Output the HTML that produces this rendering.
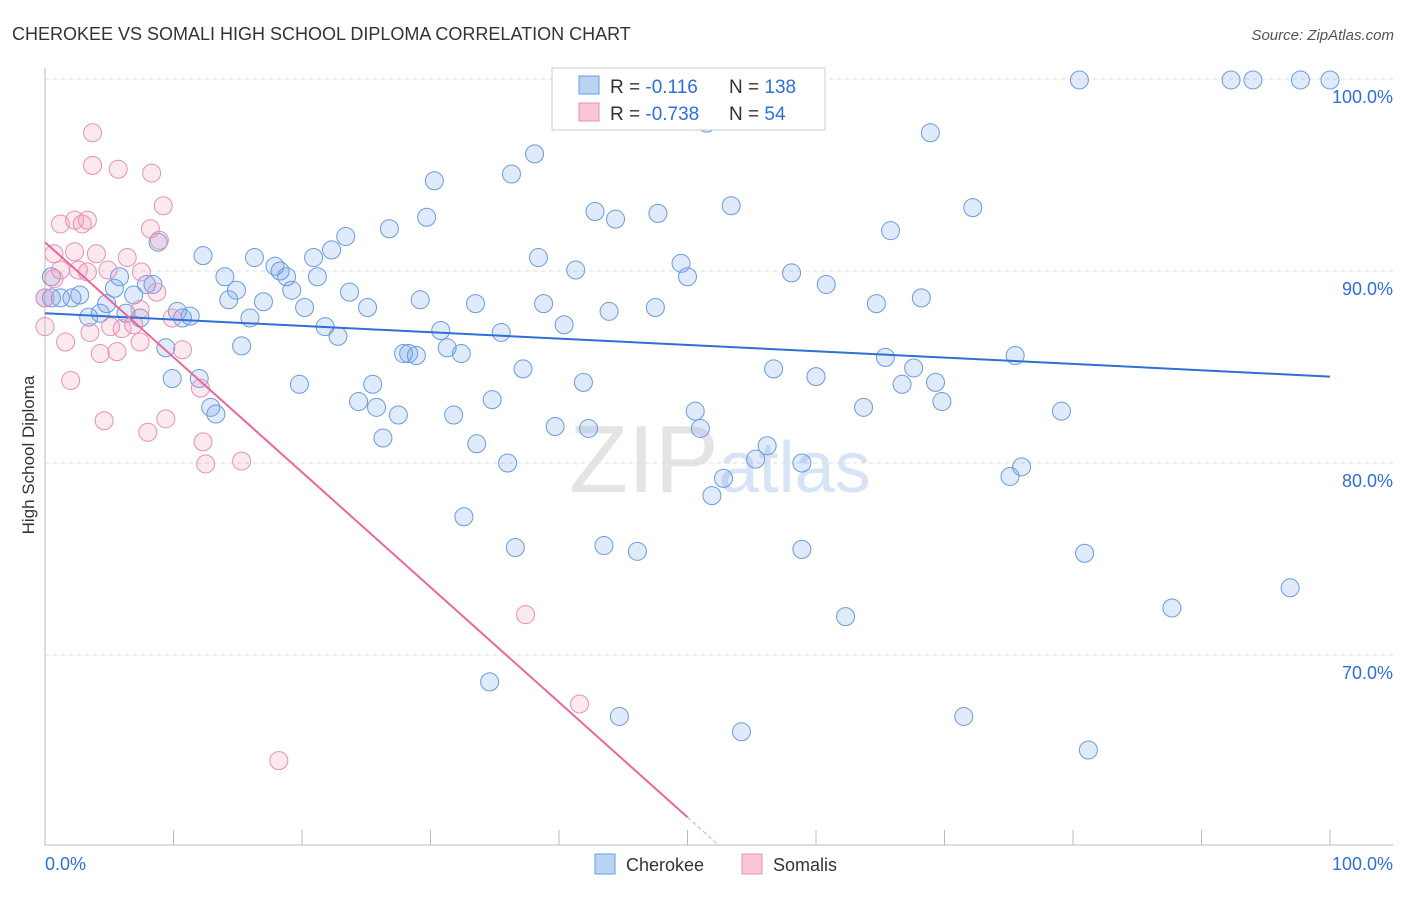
<!DOCTYPE html>
<html><head><meta charset="utf-8"><style>
body{margin:0;background:#fff;font-family:"Liberation Sans",sans-serif;}
svg text{font-family:"Liberation Sans",sans-serif;}
</style></head><body>
<svg id="c" width="1406" height="892">
<text x="12" y="40" font-size="18" fill="#333">CHEROKEE VS SOMALI HIGH SCHOOL DIPLOMA CORRELATION CHART</text>
<text x="1394" y="40" font-size="15" fill="#555" font-style="italic" text-anchor="end">Source: ZipAtlas.com</text>
<text x="34" y="455" font-size="17" fill="#333" text-anchor="middle" transform="rotate(-90 34 455)">High School Diploma</text>
<text x="720" y="492" font-size="96" fill="#e4e4e4" text-anchor="middle" font-family="Liberation Serif">ZIP<tspan fill="#d6e4f5" font-family="Liberation Sans" font-size="72">atlas</tspan></text>
<g id="grid"></g><g id="pts"></g><g id="lines"></g>
<rect x="552" y="68" width="273" height="62" fill="#fff" stroke="#ccc"/>
<rect x="579" y="76" width="20" height="18" fill="#b9d3f3" stroke="#6a9be0"/>
<rect x="579" y="103" width="20" height="18" fill="#f8c6d6" stroke="#e891b0"/>
<text x="610" y="93" font-size="19" fill="#333">R = <tspan fill="#2f6fd6">-0.116</tspan></text>
<text x="729" y="93" font-size="19" fill="#333">N = <tspan fill="#2f6fd6">138</tspan></text>
<text x="610" y="120" font-size="19" fill="#333">R = <tspan fill="#2f6fd6">-0.738</tspan></text>
<text x="729" y="120" font-size="19" fill="#333">N = <tspan fill="#2f6fd6"> 54</tspan></text>
<rect x="595" y="854" width="20" height="20" fill="#b9d3f3" stroke="#6a9be0"/>
<text x="626" y="871" font-size="18" fill="#333">Cherokee</text>
<rect x="742" y="854" width="20" height="20" fill="#f8c6d6" stroke="#e891b0"/>
<text x="773" y="871" font-size="18" fill="#333">Somalis</text>
<text x="45" y="870" font-size="18" fill="#2f6fd6">0.0%</text>
<text x="1393" y="870" font-size="18" fill="#2f6fd6" text-anchor="end">100.0%</text>
</svg>
<script>
const yTicks=[100,90,80,70];
const yTickLabels=["100.0%","90.0%","80.0%","70.0%"];
const blueX=[0.5,1.2,2.1,2.7,3.4,4.3,4.8,5.4,5.8,6.3,6.9,7.4,7.9,8.4,8.8,9.4,9.9,10.3,10.7,11.3,12.0,12.3,12.9,13.3,14.0,14.3,14.9,15.3,15.95,16.3,17.0,17.9,18.3,18.8,19.2,19.8,20.2,20.9,21.2,21.8,22.3,22.8,23.4,23.7,24.4,25.1,25.5,25.8,26.3,26.8,27.5,27.9,28.3,28.9,29.2,29.7,30.3,30.8,31.3,31.8,32.4,32.6,33.5,33.6,34.6,34.8,35.5,36.0,36.3,36.6,37.2,38.1,38.4,38.8,39.7,40.4,41.3,41.9,42.3,42.8,43.5,43.9,44.4,44.7,46.1,47.5,47.7,49.5,50.0,50.6,51.0,51.5,51.9,52.8,53.4,54.2,55.3,56.2,56.7,58.1,58.9,58.9,60.0,60.8,62.3,63.7,64.7,65.4,65.8,66.7,67.6,68.2,68.9,69.3,69.8,71.5,72.2,75.1,75.5,76.0,79.1,80.5,80.9,81.2,87.7,92.3,94.0,96.9,97.7,100,46.7,48.0,53.7,0,0.5];
const blueY=[88.6,88.6,88.6,88.75,87.6,87.8,88.3,89.1,89.7,87.8,88.75,87.55,89.3,89.3,91.5,86.0,84.4,87.9,87.55,87.65,84.4,90.8,82.9,82.55,89.7,88.5,89.0,86.1,87.55,90.7,88.4,90.25,90.0,89.7,89.0,84.1,88.1,90.7,89.7,87.1,91.1,86.6,91.8,88.9,83.2,88.1,84.1,82.9,81.3,92.2,82.5,85.7,85.7,85.6,88.5,92.8,94.7,86.9,86.0,82.5,85.7,77.2,88.3,81.0,68.6,83.3,86.8,80.0,95.05,75.6,84.9,96.1,90.7,88.3,81.9,87.2,90.05,84.2,81.8,93.1,75.7,87.9,92.7,66.8,75.4,88.1,93.0,90.4,89.7,82.7,81.8,97.7,78.3,79.2,93.4,66.0,80.2,80.9,84.9,89.9,80.0,75.5,84.5,89.3,72.0,82.9,88.3,85.5,92.1,84.1,84.95,88.6,97.2,84.2,83.2,66.8,93.3,79.3,85.6,79.8,82.7,99.95,75.3,65.05,72.45,99.95,99.95,73.5,99.95,99.95,99.95,99.95,99.95,88.6,89.7];
const pinkX=[0,0.7,0.7,1.2,1.2,1.6,2.0,2.3,2.3,2.6,2.9,3.3,3.3,3.7,3.7,3.5,4.0,4.3,4.6,4.9,5.1,5.6,5.7,6.0,6.4,6.9,7.4,7.4,7.5,8.0,8.2,8.3,8.7,8.9,9.2,9.4,9.9,10.7,12.1,12.3,12.5,15.3,18.2,37.4,41.6,0];
const pinkY=[87.1,90.9,89.6,90.05,92.45,86.3,84.3,91.0,92.65,90.05,92.45,92.65,89.95,97.2,95.5,86.8,90.9,85.7,82.2,90.05,87.1,85.8,95.3,87.0,90.7,87.2,86.3,88.0,89.95,81.6,92.2,95.1,88.9,91.6,93.4,82.3,87.55,85.9,83.9,81.1,79.95,80.1,64.5,72.1,67.45,88.6];
const blueTrend=[87.8,84.5];
const pinkTrend=[91.5,61.55];
const NS="http://www.w3.org/2000/svg";
const X0=45,X1=1330,Y100=79,YPX=19.2;
const sx=v=>X0+(X1-X0)*v/100;
const sy=v=>Y100+(100-v)*YPX;
function mk(tag,attrs,parent){const e=document.createElementNS(NS,tag);for(const k in attrs)e.setAttribute(k,attrs[k]);parent.appendChild(e);return e;}
const grid=document.getElementById('grid');
yTicks.forEach((t,i)=>{
  const l=mk('line',{x1:45,x2:1393,y1:sy(t),y2:sy(t),stroke:'#ddd','stroke-dasharray':'4 4'},grid);
  
  
  const tx=mk('text',{x:1393,y:sy(t)+24,'font-size':18,fill:'#2f6fd6','text-anchor':'end'},grid);
  tx.textContent=yTickLabels[i];
  
  
});
const ax=mk('line',{x1:45,x2:1393,y1:845,y2:845,stroke:'#bbb'},grid);


const ay=mk('line',{x1:45,x2:45,y1:68,y2:845,stroke:'#bbb'},grid);


for(let i=0;i<=10;i++){
  const t=mk('line',{x1:sx(i*10),x2:sx(i*10),y1:830,y2:845,stroke:'#bbb'},grid);
  
  
}
const pts=document.getElementById('pts');
blueX.forEach((x,i)=>{
  const c=mk('circle',{cx:sx(x),cy:sy(blueY[i]),r:9,fill:'rgba(110,160,230,0.22)',stroke:'#6a9be0','stroke-width':1},pts);
  
  
});
pinkX.forEach((x,i)=>{
  const c=mk('circle',{cx:sx(x),cy:sy(pinkY[i]),r:9,fill:'rgba(240,150,180,0.22)',stroke:'#e891b0','stroke-width':1},pts);
  
  
});
const lines=document.getElementById('lines');
const bl=mk('line',{x1:sx(0),y1:sy(blueTrend[0]),x2:sx(100),y2:sy(blueTrend[1]),stroke:'#2f6fd6','stroke-width':2},lines);


const pl=mk('line',{x1:sx(0),y1:sy(pinkTrend[0]),x2:sx(50),y2:sy(pinkTrend[1]),stroke:'#e8689a','stroke-width':2},lines);


const slope=(pinkTrend[1]-pinkTrend[0])/50;
const xe=50+(60.1-pinkTrend[1])/slope;
const pd=mk('line',{x1:sx(50),y1:sy(pinkTrend[1]),x2:sx(xe),y2:sy(60.1),stroke:'#e8a0bb','stroke-width':1,'stroke-dasharray':'4 3'},lines);


</script>
</body></html>
